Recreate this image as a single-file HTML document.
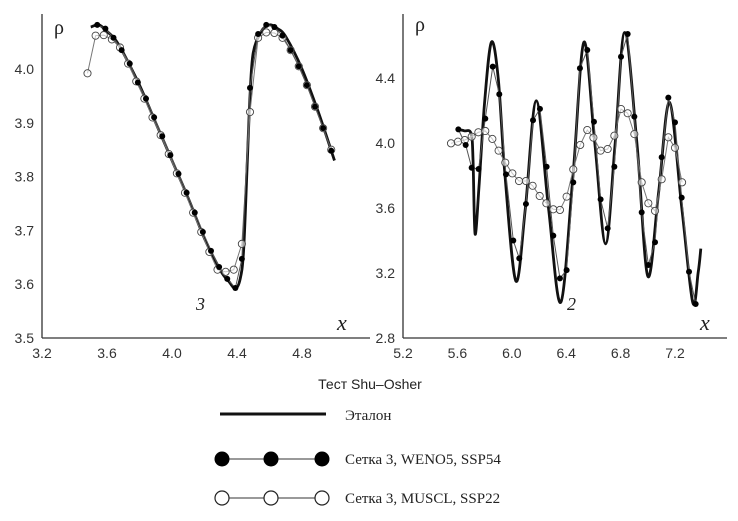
<!DOCTYPE html>
<html><head><meta charset="utf-8"><style>
body{margin:0;background:#fff;width:738px;height:516px;overflow:hidden}
.tk{font-family:"Liberation Sans",sans-serif;font-size:14px;fill:#333}
.sr{font-family:"Liberation Serif",serif}
.ss{font-family:"Liberation Sans",sans-serif}
</style></head><body>
<svg id="s" width="738" height="516"></svg>
<script>
// Left panel data
const L_refX=[3.5,3.55,3.6,3.65,3.7,3.8,3.9,4.0,4.1,4.2,4.3,4.35,4.39,4.42,4.44,4.46,4.48,4.5,4.55,4.6,4.65,4.7,4.8,4.9,5.0];
const L_refY=[4.078,4.082,4.07,4.055,4.03,3.97,3.9,3.83,3.76,3.685,3.625,3.605,3.592,3.61,3.66,3.8,3.95,4.03,4.07,4.082,4.075,4.06,4.0,3.92,3.83];
const L_wX=[3.54,3.59,3.64,3.69,3.74,3.79,3.84,3.89,3.94,3.99,4.04,4.09,4.14,4.19,4.24,4.29,4.34,4.39,4.43,4.48,4.53,4.58,4.63,4.68,4.73,4.78,4.83,4.88,4.93,4.98];
const L_wY=[4.082,4.075,4.058,4.035,4.01,3.975,3.945,3.91,3.875,3.84,3.805,3.77,3.733,3.697,3.662,3.632,3.61,3.593,3.647,3.965,4.065,4.082,4.078,4.062,4.035,4.005,3.97,3.93,3.89,3.848];
const L_mX=[3.48,3.53,3.58,3.63,3.68,3.73,3.78,3.83,3.88,3.93,3.98,4.03,4.08,4.13,4.18,4.23,4.28,4.33,4.38,4.43,4.48,4.53,4.58,4.63,4.68,4.73,4.78,4.83,4.88,4.93,4.98];
const L_mY=[3.992,4.062,4.063,4.055,4.04,4.01,3.977,3.945,3.91,3.877,3.842,3.806,3.77,3.733,3.697,3.66,3.627,3.623,3.627,3.675,3.92,4.058,4.068,4.067,4.058,4.035,4.005,3.97,3.93,3.89,3.85];
const L_xt=["3.2","3.6","4.0","4.4","4.8"];
const L_yt=["3.5","3.6","3.7","3.8","3.9","4.0"];
// Right panel data
const R_refX=[5.6,5.65,5.7,5.715,5.73,5.76,5.8,5.85,5.9,5.95,6.03,6.1,6.18,6.27,6.36,6.45,6.53,6.61,6.69,6.76,6.83,6.92,7.0,7.08,7.16,7.25,7.33,7.37,7.39];
const R_refY=[4.085,4.075,4.06,3.9,3.44,3.75,4.25,4.62,4.4,3.8,3.15,3.6,4.26,3.6,3.02,3.8,4.62,4.0,3.38,4.0,4.68,4.0,3.18,3.7,4.25,3.6,3.02,3.2,3.35];
const R_wX=[5.607,5.661,5.705,5.756,5.805,5.86,5.908,5.957,6.011,6.055,6.104,6.156,6.207,6.256,6.305,6.354,6.403,6.452,6.501,6.555,6.604,6.653,6.705,6.754,6.803,6.852,6.901,6.955,7.004,7.053,7.102,7.151,7.2,7.249,7.303,7.352];
const R_wY=[4.084,3.988,3.848,3.84,4.15,4.47,4.3,3.807,3.4,3.29,3.625,4.14,4.21,3.854,3.43,3.167,3.218,3.758,4.46,4.572,4.131,3.653,3.475,3.854,4.531,4.671,4.162,3.573,3.249,3.389,3.912,4.279,4.127,3.664,3.208,3.009];
const R_mX=[5.553,5.604,5.654,5.705,5.754,5.805,5.857,5.903,5.952,6.004,6.053,6.104,6.153,6.205,6.254,6.305,6.354,6.403,6.452,6.503,6.555,6.6,6.653,6.705,6.754,6.803,6.852,6.901,6.955,7.004,7.053,7.102,7.151,7.2,7.252];
const R_mY=[3.998,4.008,4.018,4.039,4.066,4.074,4.025,3.953,3.879,3.813,3.766,3.766,3.737,3.674,3.629,3.592,3.588,3.67,3.838,3.988,4.08,4.033,3.953,3.963,4.045,4.209,4.183,4.055,3.758,3.629,3.582,3.777,4.035,3.971,3.758];
const R_xt=["5.2","5.6","6.0","6.4","6.8","7.2"];
const R_yt=["2.8","3.2","3.6","4.0","4.4"];

const S=document.getElementById('s');const NS='http://www.w3.org/2000/svg';
function mk(t,a,txt){const e=document.createElementNS(NS,t);for(const k in a)e.setAttribute(k,a[k]);if(txt!=null)e.textContent=txt;S.appendChild(e);return e;}
function crPath(px,py){let d='M'+px[0]+','+py[0];for(let i=0;i<px.length-1;i++){const i0=Math.max(0,i-1),i3=Math.min(px.length-1,i+2);
const c1x=px[i]+(px[i+1]-px[i0])/6,c1y=py[i]+(py[i+1]-py[i0])/6,c2x=px[i+1]-(px[i3]-px[i])/6,c2y=py[i+1]-(py[i3]-py[i])/6;
d+=' C'+c1x.toFixed(1)+','+c1y.toFixed(1)+' '+c2x.toFixed(1)+','+c2y.toFixed(1)+' '+px[i+1].toFixed(1)+','+py[i+1].toFixed(1);}return d;}
function panel(p,c){
 const sx=v=>c.x0+(v-c.xmin)*c.kx, sy=v=>c.y0-(v-c.ymin)*c.ky;
 let e=mk('line',{x1:c.x0,y1:c.y0,x2:c.x0,y2:14,stroke:'#333','stroke-width':1.3});
 
 e=mk('line',{x1:c.x0,y1:c.y0,x2:c.xend,y2:c.y0,stroke:'#333','stroke-width':1.3});
 
 c.xt.forEach(t=>{const X=sx(+t);e=mk('text',{x:X,y:c.y0+20,'text-anchor':'middle',class:'tk'},t);
  });
 c.yt.forEach(t=>{const Y=sy(+t);e=mk('text',{x:c.x0-8,y:Y+5,'text-anchor':'end',class:'tk'},t);
  });
 const rx=c.refX.map(sx),ry=c.refY.map(sy);
 e=mk('path',{d:crPath(rx,ry),fill:'none',stroke:'#111','stroke-width':2.8});
 
 e=mk('polyline',{points:c.mX.map((v,i)=>sx(v)+','+sy(c.mY[i])).join(' '),fill:'none',stroke:'#777','stroke-width':1});
 
 e=mk('polyline',{points:c.wX.map((v,i)=>sx(v)+','+sy(c.wY[i])).join(' '),fill:'none',stroke:'#555','stroke-width':1});
 
 c.mX.forEach((v,i)=>{e=mk('circle',{cx:sx(v),cy:sy(c.mY[i]),r:3.6,fill:'#fff','fill-opacity':0.6,stroke:'#444','stroke-width':0.9});
  });
 c.wX.forEach((v,i)=>{e=mk('circle',{cx:sx(v),cy:sy(c.wY[i]),r:3,fill:'#000'});
  });
 e=mk('text',{x:c.rhoX,y:c.rhoY,'font-size':20,class:'sr',fill:'#222'},'ρ');
 
 e=mk('text',{x:c.xlX,y:330,'font-size':22,'font-style':'italic',class:'sr',fill:'#222'},'x');
 
 e=mk('text',{x:c.numX,y:310,'font-size':18,'font-style':'italic',class:'sr',fill:'#222'},c.num);
 
}
panel('left',{x0:42,y0:338,xend:370,xmin:3.2,kx:162.5,ymin:3.5,ky:538,xt:L_xt,yt:L_yt,refX:L_refX,refY:L_refY,wX:L_wX,wY:L_wY,mX:L_mX,mY:L_mY,rhoX:54,rhoY:34,xlX:337,numX:196,num:'3'});
panel('right',{x0:403,y0:338,xend:727,xmin:5.2,kx:136,ymin:2.8,ky:162.5,xt:R_xt,yt:R_yt,refX:R_refX,refY:R_refY,wX:R_wX,wY:R_wY,mX:R_mX,mY:R_mY,rhoX:415,rhoY:31,xlX:700,numX:567,num:'2'});
</script>
<svg style="position:absolute;left:0;top:0" width="738" height="516">
<text x="370" y="389" text-anchor="middle" class="ss" font-size="14" fill="#222">Тест Shu–Osher</text>
<g>
<line x1="220" y1="414" x2="326" y2="414" stroke="#111" stroke-width="3"/>
<text x="345" y="420" class="sr" font-size="15" fill="#222">Эталон</text></g>
<g>
<line x1="222" y1="459" x2="322" y2="459" stroke="#333" stroke-width="1"/>
<circle cx="222" cy="459" r="7.5" fill="#000"/><circle cx="271" cy="459" r="7.5" fill="#000"/><circle cx="322" cy="459" r="7.5" fill="#000"/>
<text x="345" y="464" class="sr" font-size="15" fill="#222">Сетка 3, WENO5, SSP54</text></g>
<g>
<line x1="222" y1="498" x2="322" y2="498" stroke="#333" stroke-width="1"/>
<circle cx="222" cy="498" r="7" fill="#fff" stroke="#222" stroke-width="1.2"/><circle cx="271" cy="498" r="7" fill="#fff" stroke="#222" stroke-width="1.2"/><circle cx="322" cy="498" r="7" fill="#fff" stroke="#222" stroke-width="1.2"/>
<text x="345" y="503" class="sr" font-size="15" fill="#222">Сетка 3, MUSCL, SSP22</text></g>
</svg>
</body></html>
